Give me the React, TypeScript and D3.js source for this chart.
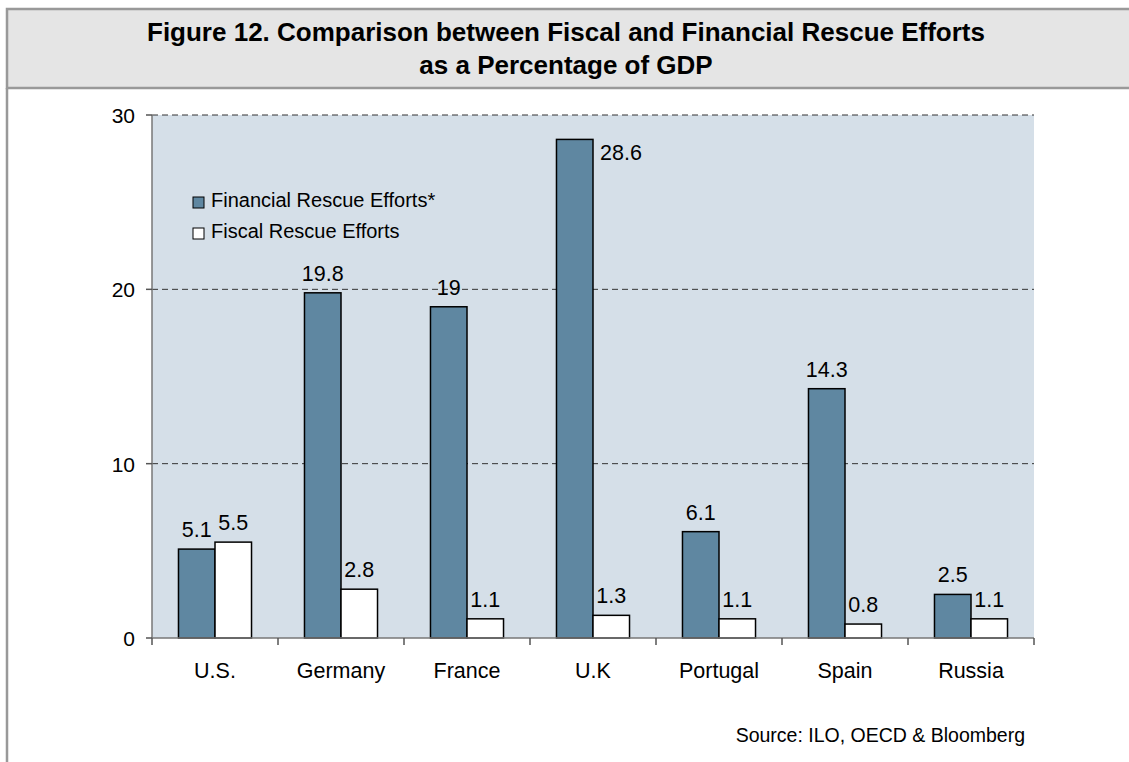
import React from "react";
import * as d3 from "d3";

const categories = ["U.S.", "Germany", "France", "U.K", "Portugal", "Spain", "Russia"];
const financial = [5.1, 19.8, 19, 28.6, 6.1, 14.3, 2.5];
const fiscal = [5.5, 2.8, 1.1, 1.3, 1.1, 0.8, 1.1];
const seriesNames = ["Financial Rescue Efforts*", "Fiscal Rescue Efforts"];
const yTicks = [0, 10, 20, 30];
const titleLines = [
  "Figure 12. Comparison between Fiscal and Financial Rescue Efforts",
  "as a Percentage of GDP",
];
const sourceText = "Source: ILO, OECD & Bloomberg";

const W = 1129;
const H = 762;
const FONT = "Arial, 'Liberation Sans', Helvetica, sans-serif";
const COLORS = ["#5F87A1", "#FFFFFF"];

export default function App() {
  const left = 152;
  const right = 1034;
  const top = 115;
  const bottom = 638;

  const x = d3.scaleBand<string>().domain(categories).range([left, right]).paddingInner(0).paddingOuter(0);
  const y = d3.scaleLinear().domain([0, 30]).range([bottom, top]);
  const bw = x.bandwidth();
  const barW = bw / 3.45;
  const sub = d3.scaleBand<number>().domain([0, 1]).range([bw / 2 - barW, bw / 2 + barW]);

  const series = [financial, fiscal];

  return (
    <svg width={W} height={H} style={{ display: "block", position: "absolute", left: 0, top: 0 }} fontFamily={FONT}>
      <rect x={0} y={0} width={W} height={H} fill="#fff" />
      {/* title box */}
      <rect x={7} y={9} width={W + 10} height={79} fill="#E5E5E5" stroke="#999" strokeWidth={2.5} />
      <line x1={7} y1={88} x2={7} y2={H + 5} stroke="#999" strokeWidth={2.5} />
      {titleLines.map((t, i) => (
        <text key={i} x={566} y={41 + i * 33} textAnchor="middle" fontSize={26} fontWeight="bold" fill="#000">
          {t}
        </text>
      ))}
      {/* plot area */}
      <rect x={left} y={top} width={right - left} height={bottom - top} fill="#D5DFE8" />
      {yTicks.filter((t) => t > 0).map((t) => (
        <line key={t} x1={left} x2={right} y1={y(t)} y2={y(t)} stroke="#333" strokeWidth={1} strokeDasharray="6,4" />
      ))}
      {/* bars */}
      {categories.map((c, i) =>
        series.map((s, j) => {
          const bx = (x(c) as number) + (sub(j) as number);
          return (
            <rect
              key={c + j}
              x={bx}
              y={y(s[i])}
              width={sub.bandwidth()}
              height={y(0) - y(s[i])}
              fill={COLORS[j]}
              stroke="#000"
              strokeWidth={1.5}
            />
          );
        })
      )}
      {/* data labels */}
      {categories.map((c, i) =>
        series.map((s, j) => {
          const bx = (x(c) as number) + (sub(j) as number);
          const cx = bx + sub.bandwidth() / 2;
          const ty = y(s[i]) - 12;
          const overflow = ty - 22 < top;
          return (
            <text
              key={"l" + c + j}
              x={overflow ? bx + sub.bandwidth() + 7 : cx}
              y={overflow ? y(s[i]) + 21 : ty}
              textAnchor={overflow ? "start" : "middle"}
              fontSize={21.5}
              fill="#000"
            >
              {String(s[i])}
            </text>
          );
        })
      )}
      {/* axes */}
      <line x1={left} x2={left} y1={top} y2={bottom} stroke="#777" strokeWidth={1.5} />
      <line x1={left} x2={right} y1={bottom} y2={bottom} stroke="#777" strokeWidth={1.5} />
      {yTicks.map((t) => (
        <g key={"yt" + t}>
          <line x1={left - 6} x2={left} y1={y(t)} y2={y(t)} stroke="#555" strokeWidth={1.5} />
          <text x={135} y={y(t) + 8} textAnchor="end" fontSize={21} fill="#000">
            {t}
          </text>
        </g>
      ))}
      {categories.map((c) => (
        <line key={"xt" + c} x1={(x(c) as number) + bw} x2={(x(c) as number) + bw} y1={bottom} y2={bottom + 7} stroke="#555" strokeWidth={1.5} />
      ))}
      <line x1={left} x2={left} y1={bottom} y2={bottom + 7} stroke="#555" strokeWidth={1.5} />
      {categories.map((c) => (
        <text key={"xl" + c} x={(x(c) as number) + bw / 2} y={678} textAnchor="middle" fontSize={21.5} fill="#000">
          {c}
        </text>
      ))}
      {/* legend */}
      {seriesNames.map((n, i) => (
        <g key={n} transform={`translate(193, ${197 + i * 31})`}>
          <rect x={0} y={0} width={11} height={11} fill={COLORS[i]} stroke="#000" strokeWidth={1} />
          <text x={18} y={10} fontSize={20} fill="#000">
            {n}
          </text>
        </g>
      ))}
      {/* source */}
      <text x={1025} y={742} textAnchor="end" fontSize={19.5} fill="#000">
        {sourceText}
      </text>
    </svg>
  );
}
